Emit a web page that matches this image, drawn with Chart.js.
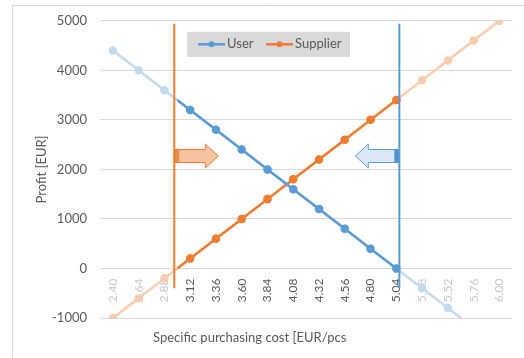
<!DOCTYPE html>
<html>
<head>
<meta charset="utf-8">
<script src="https://cdn.jsdelivr.net/npm/chart.js@4.4.1/dist/chart.umd.min.js"></script>
<style>
  html, body { margin: 0; padding: 0; background: #fff; }
  canvas { display: block; }
</style>
</head>
<body>
<canvas id="chart" width="524" height="358"></canvas>
<script>
const costs = ['2.40', '2.64', '2.88', '3.12', '3.36', '3.60', '3.84', '4.08', '4.32', '4.56', '4.80', '5.04', '5.28', '5.52', '5.76', '6.00']
const userProfit = [4400, 4000, 3600, 3200, 2800, 2400, 2000, 1600, 1200, 800, 400, 0, -400, -800, -1200, -1600]
const supplierProfit = [-1000, -600, -200, 200, 600, 1000, 1400, 1800, 2200, 2600, 3000, 3400, 3800, 4200, 4600, 5000]
const profitTicks = [-1000, 0, 1000, 2000, 3000, 4000, 5000]

const BLUE = '#5b9bd5'
const ORANGE = '#ed7d31'
const BLUE_LIGHT = '#c3daef'
const ORANGE_LIGHT = '#f8ccae'
const TEXT = '#595959'
const FONT = 'Lato, "Noto Sans", sans-serif'

// fractional category index where a series passes through zero
const zeroCrossing = (values) => {
	for (let i = 0; i < values.length - 1; i++) {
		const a = values[i], b = values[i + 1]
		if (a === 0) return i
		if ((a < 0 && b > 0) || (a > 0 && b < 0)) return i + -a / (b - a)
	}
	return values.length - 1
}

const supplierBreakEven = zeroCrossing(supplierProfit)
const userBreakEven = zeroCrossing(userProfit)
const firstInside = Math.ceil(supplierBreakEven)
const lastInside = Math.floor(userBreakEven)

const boldPoint = (ctx) => (ctx.dataIndex >= firstInside && ctx.dataIndex <= lastInside ? 3 : 0)
const boldSegment = (color) => (ctx) => (ctx.p0DataIndex >= lastInside ? 'rgba(0,0,0,0)' : color)

// bold series only show between the two break-even lines
const rangeClip = {
	id: 'rangeClip',
	beforeDatasetDraw(chart, args) {
		if (!chart.data.datasets[args.index].bold) return
		const { ctx, chartArea } = chart
		const x = chart.scales.x
		const left = x.getPixelForValue(supplierBreakEven)
		const right = x.getPixelForValue(userBreakEven) + 6
		ctx.save()
		ctx.beginPath()
		ctx.rect(left, chartArea.top - 6, right - left, chartArea.bottom - chartArea.top + 12)
		ctx.clip()
	},
	afterDatasetDraw(chart, args) {
		if (chart.data.datasets[args.index].bold) chart.ctx.restore()
	},
}

const drawArrow = (ctx, baseX, cy, dir, fill, stroke, mark) => {
	const shaft = 31, head = 13, sh = 6.5, hh = 12
	const neck = baseX + dir * shaft
	const tip = neck + dir * head
	ctx.beginPath()
	ctx.moveTo(baseX, cy - sh)
	ctx.lineTo(neck, cy - sh)
	ctx.lineTo(neck, cy - hh)
	ctx.lineTo(tip, cy)
	ctx.lineTo(neck, cy + hh)
	ctx.lineTo(neck, cy + sh)
	ctx.lineTo(baseX, cy + sh)
	ctx.closePath()
	ctx.fillStyle = fill
	ctx.fill()
	ctx.lineWidth = 1
	ctx.strokeStyle = stroke
	ctx.stroke()
	ctx.fillStyle = mark
	ctx.fillRect(dir > 0 ? baseX : baseX - 5, cy - sh, 5, sh * 2)
}

const decorations = {
	id: 'decorations',
	beforeDraw(chart) {
		const { ctx } = chart
		ctx.save()
		ctx.strokeStyle = '#d9d9d9'
		ctx.lineWidth = 1
		ctx.beginPath()
		ctx.moveTo(12.5, 358)
		ctx.lineTo(12.5, 5.5)
		ctx.lineTo(524, 5.5)
		ctx.stroke()
		ctx.restore()
	},
	afterDatasetsDraw(chart) {
		const { ctx } = chart
		const x = chart.scales.x
		const y = chart.scales.y
		const top = y.getPixelForValue(5000) + 3
		const bottom = y.getPixelForValue(-400)
		const sx = x.getPixelForValue(supplierBreakEven) - 3
		const ux = x.getPixelForValue(userBreakEven) + 3
		const cy = y.getPixelForValue(2270)

		ctx.save()
		drawArrow(ctx, sx, cy, 1, '#f6c3a0', ORANGE, '#ee8a4a')
		drawArrow(ctx, ux, cy, -1, '#dbe7f5', BLUE, '#4f90cf')

		ctx.lineWidth = 2
		ctx.strokeStyle = ORANGE
		ctx.beginPath()
		ctx.moveTo(sx, top)
		ctx.lineTo(sx, bottom)
		ctx.stroke()
		ctx.strokeStyle = BLUE
		ctx.beginPath()
		ctx.moveTo(ux, top)
		ctx.lineTo(ux, bottom)
		ctx.stroke()
		ctx.restore()
	},
	afterDraw(chart) {
		const { ctx, chartArea } = chart
		ctx.save()

		// legend box
		const lx = chartArea.left + 87
		const ly = chartArea.top + 11
		ctx.fillStyle = '#d9d9d9'
		ctx.fillRect(lx, ly, 163, 25)
		const cy = ly + 12.5
		const items = [
			{ label: 'User', color: BLUE, at: lx + 11 },
			{ label: 'Supplier', color: ORANGE, at: lx + 79 },
		]
		ctx.font = '13px ' + FONT
		ctx.textBaseline = 'middle'
		items.forEach((it) => {
			ctx.strokeStyle = it.color
			ctx.lineWidth = 2.5
			ctx.beginPath()
			ctx.moveTo(it.at, cy)
			ctx.lineTo(it.at + 27, cy)
			ctx.stroke()
			ctx.fillStyle = it.color
			ctx.beginPath()
			ctx.arc(it.at + 13.5, cy, 3, 0, Math.PI * 2)
			ctx.fill()
			ctx.fillStyle = TEXT
			ctx.fillText(it.label, it.at + 29, cy)
		})

		// horizontal axis title
		ctx.font = '13px ' + FONT
		ctx.fillStyle = TEXT
		ctx.textAlign = 'left'
		ctx.fillText('Specific purchasing cost [EUR/pcs', 153, 338)
		ctx.restore()
	},
}

new Chart(document.getElementById('chart'), {
	type: 'line',
	data: {
		labels: costs,
		datasets: [
			{
				label: 'User',
				data: userProfit,
				bold: true,
				order: 0,
				borderColor: BLUE,
				backgroundColor: BLUE,
				borderWidth: 2.5,
				pointRadius: boldPoint,
				segment: { borderColor: boldSegment(BLUE) },
			},
			{
				label: 'Supplier',
				data: supplierProfit,
				bold: true,
				order: 0,
				borderColor: ORANGE,
				backgroundColor: ORANGE,
				borderWidth: 2.5,
				pointRadius: boldPoint,
				segment: { borderColor: boldSegment(ORANGE) },
			},
			{
				label: 'User',
				data: userProfit,
				order: 1,
				borderColor: BLUE_LIGHT,
				backgroundColor: BLUE_LIGHT,
				borderWidth: 2.5,
				pointRadius: 3,
			},
			{
				label: 'Supplier',
				data: supplierProfit,
				order: 1,
				borderColor: ORANGE_LIGHT,
				backgroundColor: ORANGE_LIGHT,
				borderWidth: 2.5,
				pointRadius: 3,
			},
		],
	},
	options: {
		responsive: false,
		animation: false,
		devicePixelRatio: 1,
		layout: { padding: { left: 0, top: 19, right: 4, bottom: 40 } },
		plugins: {
			legend: { display: false },
			tooltip: { enabled: false },
		},
		scales: {
			x: {
				type: 'category',
				position: { y: 0 },
				offset: true,
				afterFit: (scale) => { scale.height = 0 },
				grid: { display: false, drawTicks: false },
				border: { display: false },
				ticks: {
					autoSkip: false,
					minRotation: 90,
					maxRotation: 90,
					padding: 10,
					font: { family: FONT, size: 12 },
					color: (ctx) => (ctx.index >= firstInside && ctx.index <= lastInside ? TEXT : '#c8c8c8'),
				},
			},
			y: {
				min: -1000,
				max: 5000,
				afterFit: (scale) => { scale.width = 100 },
				afterBuildTicks: (scale) => { scale.ticks = profitTicks.map((v) => ({ value: v })) },
				grid: { color: '#d9d9d9', lineWidth: 1, drawTicks: false },
				border: { display: false },
				ticks: {
					padding: 13,
					font: { family: FONT, size: 13 },
					color: TEXT,
					callback: (v) => String(v),
				},
				title: {
					display: true,
					text: 'Profit [EUR]',
					color: TEXT,
					font: { family: FONT, size: 13 },
					padding: { top: 34, bottom: 0 },
				},
			},
		},
	},
	plugins: [rangeClip, decorations],
})
</script>
</body>
</html>
